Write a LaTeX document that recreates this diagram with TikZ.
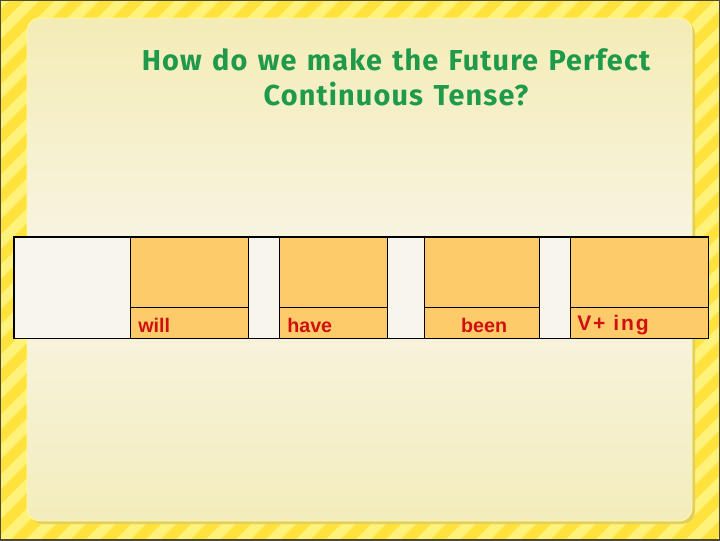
\documentclass[tikz,border=0pt]{standalone}
\usepackage{fontspec}
\setmainfont{Liberation Sans}
\newfontfamily\titlefont{Fira Sans}[LetterSpace=4, WordSpace=1.3]
\newfontfamily\ingfont{Liberation Sans}[LetterSpace=9]
\usetikzlibrary{positioning}
\definecolor{stripelight}{HTML}{FFF27A}
\definecolor{stripedark}{HTML}{FFE23C}
\definecolor{paneltop}{HTML}{F4ECB6}
\definecolor{panelmid}{HTML}{F8F5E6}
\definecolor{panelbot}{HTML}{F3EDBC}
\definecolor{panelshadow}{HTML}{E2CF62}
\definecolor{rowcream}{HTML}{F8F5EC}
\definecolor{cellorange}{HTML}{FECB6B}
\definecolor{titlegreen}{HTML}{1F9A4A}
\definecolor{wordred}{HTML}{D01010}
\newcommand{\pxu}{0.025cm}
\tikzset
{
    topbox/.style   = {rectangle, draw=black, line width=0.8pt, fill=cellorange, anchor=north west, inner sep=0pt, minimum height=70*\pxu},
    wordbox/.style  = {rectangle, draw=black, line width=0.8pt, fill=cellorange, anchor=north west, inner sep=0pt, minimum height=31*\pxu},
    wordtext/.style = {text=wordred, font=\fontsize{14}{15}\selectfont\bfseries, inner sep=0pt, yshift=-2*\pxu},
    titletext/.style= {text=titlegreen, align=center, font=\titlefont\fontsize{20.5}{24.9}\selectfont\bfseries}
}

\begin{document}
\begin{tikzpicture}[x=0.025cm, y=-0.025cm]
\useasboundingbox (0,0) rectangle (720,540);

%% striped frame
\begin{scope}
\clip (0,0) rectangle (720,540);
\fill[stripelight] (0,0) rectangle (720,540);
\foreach \s in {-560,-530,...,720}
    \fill[stripedark] (\s,540) -- ++(15,0) -- ++(540,-540) -- ++(-15,0) -- cycle;
\draw[black!60!olive, line width=0.8pt] (0,0) rectangle (720,540);
\end{scope}

%% panel
\fill[panelshadow, rounded corners=9] (30,21) rectangle (695,524);
\shade[rounded corners=9, top color=paneltop, bottom color=panelbot, middle color=panelmid, draw=white!60!yellow, line width=0.6pt] (27,18) rectangle (692,521);

\node (title)   [titletext]                              at (396,77)     {How do we make the Future Perfect\\Continuous Tense?};

%% the row
\node (row)     [rectangle, fill=rowcream, anchor=north west, inner sep=0pt, minimum width=694*\pxu, minimum height=101*\pxu] at (14,237) {};

\node (willtop) [topbox, minimum width=118*\pxu]        at (130,237)    {};
\node (willbox) [wordbox, minimum width=118*\pxu]       at (130,307)    {};
\node (havetop) [topbox, minimum width=108*\pxu]        at (279,237)    {};
\node (havebox) [wordbox, minimum width=108*\pxu]       at (279,307)    {};
\node (beentop) [topbox, minimum width=115*\pxu]        at (424,237)    {};
\node (beenbox) [wordbox, minimum width=115*\pxu]       at (424,307)    {};
\node (ingtop)  [topbox, minimum width=138*\pxu]        at (570,237)    {};
\node (ingbox)  [wordbox, minimum width=138*\pxu]       at (570,307)    {};

\node (will)    [wordtext, anchor=west, right=8*\pxu of willbox.west]   {will};
\node (have)    [wordtext, anchor=west, right=8*\pxu of havebox.west]   {have};
\node (been)    [wordtext, xshift=2*\pxu]                at (beenbox)   {been};
\node (ving)    [wordtext, font=\ingfont\fontsize{15}{16}\selectfont\bfseries, anchor=west, right=7*\pxu of ingbox.west] {V+ ing};

\draw[black, line width=1.2pt] (row.north west) rectangle (row.south east);
\end{tikzpicture}
\end{document}
